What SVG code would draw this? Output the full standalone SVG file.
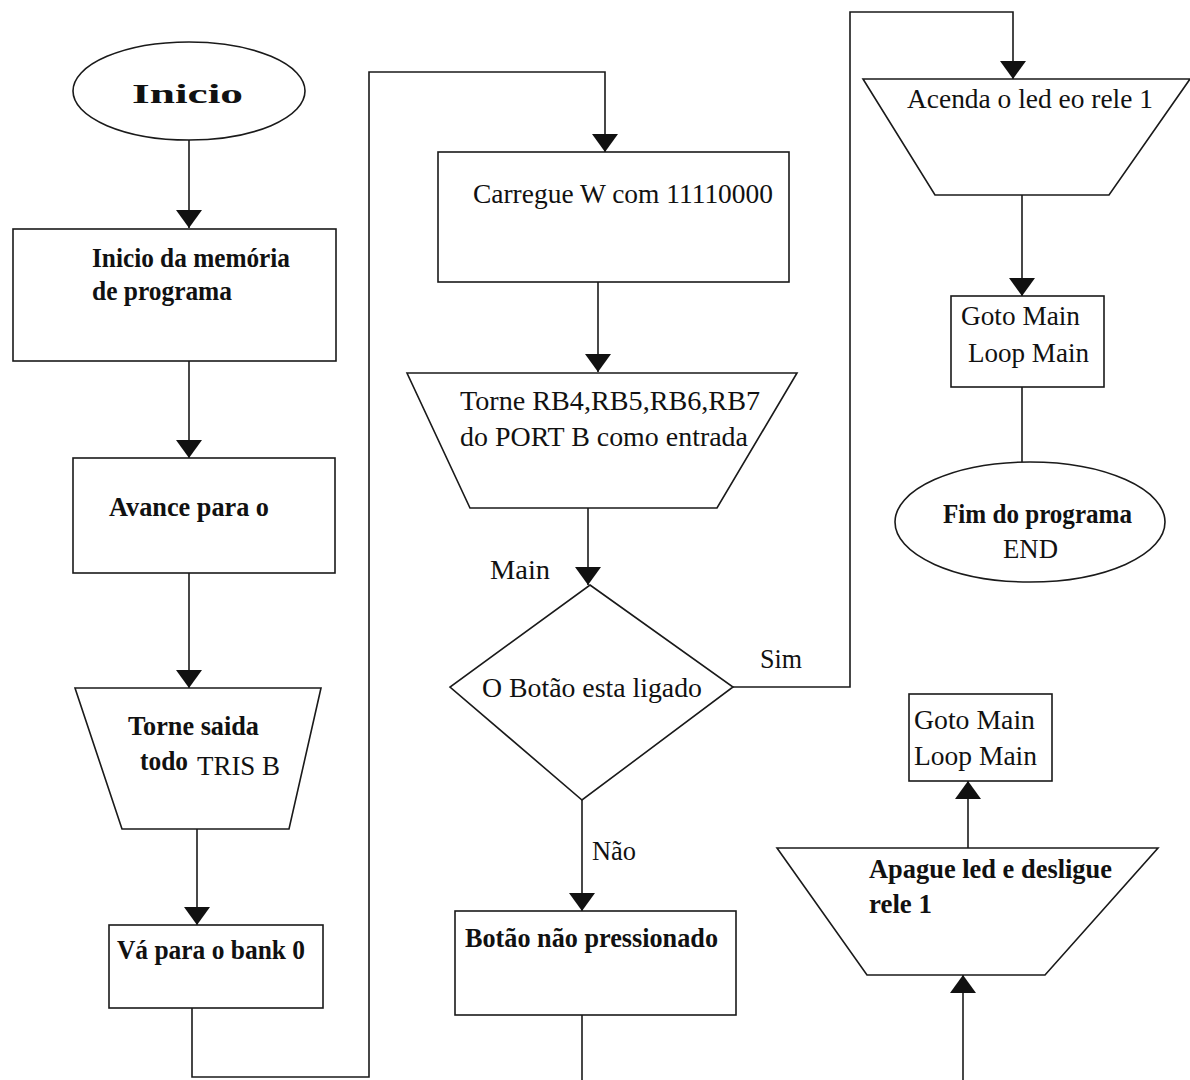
<svg xmlns="http://www.w3.org/2000/svg" width="1190" height="1080" viewBox="0 0 1190 1080">
  <style>
    .shape { fill: #ffffff; stroke: #1a1a1a; stroke-width: 1.6; }
    .wire { fill: none; stroke: #1a1a1a; stroke-width: 1.6; }
    .arrow { marker-end: url(#head); }
    text { font-family: "Liberation Serif", "Times New Roman", serif; fill: #111111; font-size: 27px; }
    .b { font-weight: bold; }
  </style>
  <defs>
    <marker id="head" viewBox="0 0 18 26" refX="18" refY="13" markerWidth="18" markerHeight="26" markerUnits="userSpaceOnUse" orient="auto">
      <path d="M0,0 L18,13 L0,26 z" fill="#111111"/>
    </marker>
  </defs>
  <rect width="1190" height="1080" fill="#ffffff"/>

  <!-- connectors -->
  <g id="connectors">
    <path class="wire arrow" d="M189,140 V228"/>
    <path class="wire arrow" d="M189,361 V458"/>
    <path class="wire arrow" d="M189,573 V688"/>
    <path class="wire arrow" d="M197,829 V925"/>
    <path class="wire arrow" d="M192,1008 V1077 H369 V72 H605 V152"/>
    <path class="wire arrow" d="M598,282 V372"/>
    <path class="wire arrow" d="M588,508 V585"/>
    <path class="wire arrow" d="M733,687 H850 V12 H1013 V79"/>
    <path class="wire arrow" d="M1022,195 V296"/>
    <path class="wire" d="M1022,387 V462"/>
    <path class="wire arrow" d="M582,800 V911"/>
    <path class="wire" d="M582,1015 V1080"/>
    <path class="wire arrow" d="M968,848 V781"/>
    <path class="wire arrow" d="M963,1080 V975"/>
    <text x="490" y="579" textLength="60" lengthAdjust="spacingAndGlyphs">Main</text>
    <text x="760" y="668" textLength="42" lengthAdjust="spacingAndGlyphs">Sim</text>
    <text x="592" y="860" textLength="44" lengthAdjust="spacingAndGlyphs">Não</text>
  </g>

  <!-- left column -->
  <g id="inicio">
    <ellipse class="shape" cx="189" cy="91" rx="116" ry="49"/>
    <text class="b" x="132" y="103" font-size="32" textLength="111" lengthAdjust="spacingAndGlyphs">Inicio</text>
  </g>
  <g id="inicio-memoria">
    <rect class="shape" x="13" y="229" width="323" height="132"/>
    <text class="b" x="92" y="267" textLength="198" lengthAdjust="spacingAndGlyphs">Inicio da memória</text>
    <text class="b" x="92" y="300" textLength="140" lengthAdjust="spacingAndGlyphs">de programa</text>
  </g>
  <g id="avance">
    <rect class="shape" x="73" y="458" width="262" height="115"/>
    <text class="b" x="109" y="516" textLength="160" lengthAdjust="spacingAndGlyphs">Avance para o</text>
  </g>
  <g id="tris-b">
    <polygon class="shape" points="75,688 321,688 289,829 122,829"/>
    <text class="b" x="128" y="735" textLength="131" lengthAdjust="spacingAndGlyphs">Torne saida</text>
    <text class="b" x="140" y="770" textLength="48" lengthAdjust="spacingAndGlyphs">todo</text>
    <text x="197" y="775" font-size="29" textLength="83" lengthAdjust="spacingAndGlyphs">TRIS B</text>
  </g>
  <g id="bank0">
    <rect class="shape" x="109" y="925" width="214" height="83"/>
    <text class="b" x="117" y="959" textLength="188" lengthAdjust="spacingAndGlyphs">Vá para o bank 0</text>
  </g>

  <!-- middle column -->
  <g id="carregue-w">
    <rect class="shape" x="438" y="152" width="351" height="130"/>
    <text x="473" y="203" textLength="300" lengthAdjust="spacingAndGlyphs">Carregue W com 11110000</text>
  </g>
  <g id="port-b">
    <polygon class="shape" points="407,373 797,373 717,508 470,508"/>
    <text x="460" y="410" textLength="300" lengthAdjust="spacingAndGlyphs">Torne RB4,RB5,RB6,RB7</text>
    <text x="460" y="446" textLength="288" lengthAdjust="spacingAndGlyphs">do PORT B como entrada</text>
  </g>
  <g id="botao-ligado">
    <polygon class="shape" points="590,585 733,687 582,800 450,687"/>
    <text x="482" y="697" textLength="220" lengthAdjust="spacingAndGlyphs">O Botão esta ligado</text>
  </g>
  <g id="botao-nao-pressionado">
    <rect class="shape" x="455" y="911" width="281" height="104"/>
    <text class="b" x="465" y="947" textLength="253" lengthAdjust="spacingAndGlyphs">Botão não pressionado</text>
  </g>

  <!-- right column -->
  <g id="acenda-led">
    <polygon class="shape" points="863,79 1190,79 1109,195 935,195"/>
    <text x="907" y="108" textLength="246" lengthAdjust="spacingAndGlyphs">Acenda o led eo rele 1</text>
  </g>
  <g id="goto-main-1">
    <rect class="shape" x="951" y="296" width="153" height="91"/>
    <text x="961" y="325" textLength="119" lengthAdjust="spacingAndGlyphs">Goto Main</text>
    <text x="968" y="362" textLength="121" lengthAdjust="spacingAndGlyphs">Loop Main</text>
  </g>
  <g id="fim">
    <ellipse class="shape" cx="1030" cy="522" rx="135" ry="60"/>
    <text class="b" x="943" y="523" textLength="189" lengthAdjust="spacingAndGlyphs">Fim do programa</text>
    <text x="1003" y="558" textLength="55" lengthAdjust="spacingAndGlyphs">END</text>
  </g>
  <g id="goto-main-2">
    <rect class="shape" x="909" y="694" width="143" height="87"/>
    <text x="914" y="729" textLength="121" lengthAdjust="spacingAndGlyphs">Goto Main</text>
    <text x="914" y="765" textLength="123" lengthAdjust="spacingAndGlyphs">Loop Main</text>
  </g>
  <g id="apague-led">
    <polygon class="shape" points="777,848 1158,848 1045,975 867,975"/>
    <text class="b" x="869" y="878" textLength="243" lengthAdjust="spacingAndGlyphs">Apague led e desligue</text>
    <text class="b" x="869" y="913" textLength="63" lengthAdjust="spacingAndGlyphs">rele 1</text>
  </g>
</svg>
